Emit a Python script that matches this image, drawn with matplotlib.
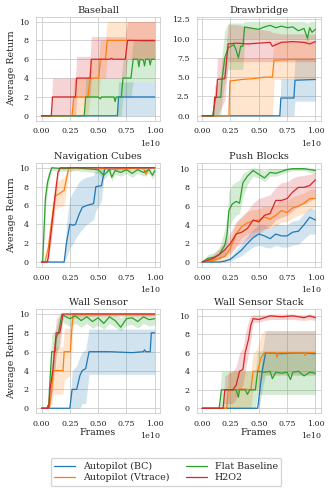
import numpy as np
import matplotlib
matplotlib.use("Agg")
import matplotlib.pyplot as plt
import seaborn as sns

sns.set_style("whitegrid")
plt.rcParams["font.family"] = ["DejaVu Serif"]

methods = ["Autopilot (BC)", "Autopilot (Vtrace)", "Flat Baseline", "H2O2"]
colors = ["#1f77b4", "#ff7f0e", "#2ca02c", "#d62728"]
titles = ["Baseball", "Drawbridge", "Navigation Cubes", "Push Blocks",
          "Wall Sensor", "Wall Sensor Stack"]
xticks = [0.0, 0.25, 0.5, 0.75, 1.0]

# all x values in units of 1e10 frames

# --- Baseball
bb_bc_x = [0, 0.67, 0.68, 1.0]
bb_bc_y = [0, 0, 2, 2]
bb_bc_lo = [0, 0, 0, 0]
bb_bc_hi = [0, 0, 3.6, 3.6]
bb_vt_x = [0, 0.27, 0.285, 0.41, 0.43, 0.505, 0.52, 0.565, 0.58, 0.8, 0.9, 1.0]
bb_vt_y = [0, 0, 2, 2, 4, 4, 6, 6, 8, 8, 7.9, 7.9]
bb_vt_lo = [0, 0, 0, 0, 2, 2, 4, 4, 6, 6, 6, 6]
bb_vt_hi = [0, 0, 4, 4, 6, 6, 8, 8, 10, 10, 10, 10]
bb_fl_x = [0, 0.377, 0.39, 0.5, 0.52, 0.53, 0.6, 0.64, 0.65, 0.66, 0.705, 0.72,
           0.79, 0.81, 0.85, 0.86, 0.87, 0.9, 0.91, 0.92, 0.95, 0.96, 0.97, 1.0]
bb_fl_y = [0, 0, 2, 2, 1.8, 2, 2, 2, 1.5, 2, 2, 4,
           4, 6, 6, 5.2, 6, 5.9, 5.3, 6, 6, 5.4, 6, 6]
bb_fl_lo = [0, 0, 0, 0, 0, 0, 0, 0, 0, 0, 0, 2,
            2, 3.6, 3.6, 3.6, 3.6, 3.6, 3.6, 3.6, 3.6, 3.6, 3.6, 3.6]
bb_fl_hi = [0, 0, 4, 4, 4, 4, 4, 4, 4, 4, 4, 6,
            6, 8, 8, 8, 8, 8, 8, 8, 8, 8, 8, 8]
bb_h2_x = [0, 0.086, 0.097, 0.30, 0.31, 0.43, 0.44, 0.6, 0.62, 0.63, 0.74, 0.76, 1.0]
bb_h2_y = [0, 0, 2, 2, 4, 4, 6, 6, 6.1, 6, 6, 8, 8]
bb_h2_lo = [0, 0, 0, 0, 2, 2, 4, 4, 4, 4, 4, 6, 6]
bb_h2_hi = [0, 0, 4, 4, 6.3, 6.3, 8.4, 8.4, 8.4, 8.4, 8.4, 10, 10]

# --- Drawbridge
db_bc_x = [0, 0.686, 0.695, 0.81, 0.82, 1.0]
db_bc_y = [0, 0, 2.3, 2.3, 4.6, 4.7]
db_bc_lo = [0, 0, 0, 0, 1.9, 1.9]
db_bc_hi = [0, 0, 4.8, 4.8, 7.3, 7.3]
db_vt_x = [0, 0.236, 0.245, 0.35, 0.45, 0.55, 0.6, 0.62, 0.635, 0.8, 1.0]
db_vt_y = [0, 0, 4.5, 4.7, 4.8, 5.0, 5.0, 5.0, 7.2, 7.3, 7.3]
db_vt_lo = [0, 0, 0, 0, 0, 0, 0, 0, 4.7, 4.7, 4.7]
db_vt_hi = [0, 0, 7.5, 7.5, 7.5, 7.5, 7.5, 7.5, 9.7, 9.7, 9.7]
db_fl_x = [0, 0.092, 0.12, 0.165, 0.175, 0.2, 0.23, 0.28, 0.3, 0.32, 0.34, 0.36,
           0.375, 0.45, 0.5, 0.55, 0.6, 0.65, 0.7, 0.75, 0.8, 0.85, 0.9, 0.93,
           0.95, 0.97, 1.0]
db_fl_y = [0, 0, 2.4, 2.4, 4.7, 7.5, 8.8, 9.2, 8.5, 7.5, 9.0, 9.0,
           11.5, 11.3, 11.2, 11.5, 11.7, 11.4, 11.6, 11.4, 11.5, 11.0, 11.3, 10.0,
           11.4, 10.8, 11.2]
db_fl_lo = [0, 0, 0, 0, 2, 4, 6, 6, 6, 6, 6, 6,
            10, 10, 10, 10, 10, 10, 10, 10, 10, 10, 10, 9.6,
            10, 10, 10]
db_fl_hi = [0, 0, 4, 5, 8, 11, 12, 12, 12, 12, 12, 12,
            12.2, 12.2, 12.2, 12.2, 12.2, 12.2, 12.2, 12.2, 12.2, 12.2, 12.2, 12.0,
            12.2, 12.2, 12.2]
db_h2_x = [0, 0.10, 0.11, 0.125, 0.135, 0.2, 0.23, 0.3, 0.4, 0.5, 0.6, 0.62,
           0.7, 0.8, 0.9, 0.95, 1.0]
db_h2_y = [0, 0, 2.4, 2.4, 4.7, 4.8, 9.3, 9.4, 9.3, 9.4, 9.5, 9.0,
           9.5, 9.6, 9.5, 9.3, 9.6]
db_h2_lo = [0, 0, 0, 0, 0, 2, 7, 7, 7, 7, 7, 7, 7, 7, 7, 7, 7]
db_h2_hi = [0, 0, 4, 4, 7.5, 7.5, 11.8, 11.8, 11.5, 11.2, 11, 10.8,
            10.6, 10.6, 10.6, 10.6, 10.6]

# --- Navigation Cubes
nc_bc_x = [0, 0.2, 0.22, 0.25, 0.28, 0.3, 0.33, 0.36, 0.4, 0.46, 0.48, 0.53,
           0.56, 0.6, 0.8, 1.0]
nc_bc_y = [0, 0, 2, 4, 3.9, 4, 5, 5.8, 6, 6.2, 8, 8.1, 10, 10, 10, 10]
nc_bc_lo = [0, 0, 0.5, 1.5, 2, 2.5, 3, 3.5, 4, 4.5, 5.5, 6.5, 10, 10, 10, 10]
nc_bc_hi = [0, 0, 4, 6.8, 7.5, 7.8, 8.5, 8.8, 9, 9.2, 10, 10, 10, 10, 10, 10]
nc_vt_x = [0, 0.03, 0.06, 0.086, 0.12, 0.15, 0.2, 0.24, 0.3, 0.5, 0.6, 0.9,
           0.92, 0.95, 1.0]
nc_vt_y = [0, 0, 1.5, 4, 7, 7.2, 7.6, 10, 10, 10, 9.8, 10, 9.3, 10, 10]
nc_vt_lo = [0, 0, 0.5, 2.5, 5.5, 5.8, 6, 9.5, 9.8, 9.8, 9.6, 9.8, 9.0, 9.8, 9.8]
nc_vt_hi = [0, 0, 2.5, 5.5, 8.5, 8.6, 9, 10, 10, 10, 10, 10, 10, 10, 10]
nc_fl_x = [0, 0.01, 0.034, 0.054, 0.077, 0.09, 0.2, 0.3, 0.4, 0.5, 0.55, 0.6,
           0.62, 0.65, 0.7, 0.75, 0.8, 0.85, 0.9, 0.95, 0.98, 1.0]
nc_fl_y = [0, 0, 6.7, 8.5, 9.5, 10, 9.9, 10, 9.9, 9.8, 9.2, 9.8,
           9.0, 9.7, 9.5, 9.8, 9.4, 9.8, 9.5, 9.8, 9.2, 9.7]
nc_fl_lo = [0, 0, 5.5, 7.8, 9.0, 9.7, 9.6, 9.7, 9.6, 9.4, 8.8, 9.4,
            8.6, 9.3, 9.1, 9.4, 9.0, 9.4, 9.1, 9.4, 8.8, 9.3]
nc_fl_hi = [0, 0.3, 8, 9.3, 10, 10, 10, 10, 10, 10, 9.7, 10,
            9.5, 10, 10, 10, 9.8, 10, 10, 10, 9.7, 10]
nc_h2_x = [0, 0.05, 0.06, 0.09, 0.12, 0.145, 0.165, 0.3, 0.5, 0.7, 1.0]
nc_h2_y = [0, 0, 0.5, 3.8, 7, 9.5, 10, 10, 10, 10, 10]
nc_h2_lo = [0, 0, 0, 2.8, 6, 8.8, 10, 10, 10, 10, 10]
nc_h2_hi = [0, 0, 1, 4.8, 8, 10, 10, 10, 10, 10, 10]

# --- Push Blocks
pb_x = [0, 0.05, 0.1, 0.15, 0.2, 0.25, 0.3, 0.35, 0.4, 0.45, 0.5,
        0.55, 0.6, 0.65, 0.7, 0.75, 0.8, 0.85, 0.9, 0.95, 1.0]
pb_bc_y = [0, 0, 0, 0, 0.1, 0.3, 0.8, 1.3, 2.0, 2.6, 3.0,
           2.8, 2.5, 3.0, 2.8, 2.8, 3.2, 3.3, 4.0, 4.8, 4.5]
pb_bc_lo = [0, 0, 0, 0, 0, 0.1, 0.4, 0.7, 1.2, 1.6, 1.8,
            1.6, 1.5, 1.8, 1.6, 1.6, 1.8, 1.9, 2.5, 3.0, 3.0]
pb_bc_hi = [0, 0, 0, 0, 0.3, 0.6, 1.3, 2.0, 2.8, 3.5, 4.0,
            4.0, 3.6, 4.1, 4.0, 4.0, 4.4, 4.5, 5.2, 5.8, 5.6]
pb_vt_y = [0, 0.1, 0.2, 0.4, 0.6, 1.5, 3.0, 3.8, 4.2, 4.4, 4.5,
           4.8, 4.6, 5.0, 5.5, 5.3, 5.8, 6.0, 6.3, 6.8, 6.8]
pb_vt_lo = [0, 0, 0, 0.1, 0.2, 0.7, 1.8, 2.6, 3.0, 3.2, 3.4,
            3.6, 3.6, 3.9, 4.3, 4.3, 4.7, 5.0, 5.2, 5.6, 5.8]
pb_vt_hi = [0, 0.3, 0.5, 0.8, 1.2, 2.5, 4.2, 5.0, 5.4, 5.6, 5.7,
            6.0, 5.9, 6.2, 6.7, 6.6, 7.0, 7.2, 7.4, 7.8, 7.8]
pb_h2_y = [0, 0.2, 0.4, 0.8, 1.3, 2.0, 3.0, 3.2, 3.6, 4.5, 4.3,
           5.0, 5.2, 6.6, 6.6, 6.8, 7.5, 8.0, 8.0, 8.2, 8.8]
pb_h2_lo = [0, 0, 0.1, 0.3, 0.6, 1.0, 1.6, 2.0, 2.4, 2.8, 3.0,
            3.5, 3.8, 4.5, 4.8, 5.0, 5.5, 6.0, 6.2, 6.5, 7.0]
pb_h2_hi = [0, 0.5, 0.8, 1.4, 2.2, 3.2, 4.3, 4.8, 5.5, 6.3, 6.8,
            7.0, 7.2, 8.0, 8.5, 8.6, 9.0, 9.2, 9.3, 9.4, 9.6]
pb_fl_x = [0, 0.05, 0.1, 0.15, 0.2, 0.22, 0.236, 0.265, 0.3, 0.33, 0.36, 0.4,
           0.45, 0.5, 0.55, 0.6, 0.65, 0.7, 0.75, 0.8, 0.85, 0.9, 0.95, 1.0]
pb_fl_y = [0, 0.4, 0.5, 0.8, 1.8, 3, 5.5, 6.2, 6.5, 6.3, 8.5, 9.2,
           9.8, 9.4, 9.0, 9.6, 9.5, 9.7, 9.9, 10, 10, 10, 9.9, 9.8]
pb_fl_lo = [0, 0, 0.1, 0.3, 0.8, 1.8, 3.5, 4.5, 5.0, 5.2, 7.0, 8.3,
            9.2, 9.0, 8.6, 9.2, 9.2, 9.4, 9.6, 9.8, 9.8, 9.8, 9.6, 9.5]
pb_fl_hi = [0, 0.8, 1, 1.5, 3.5, 5, 7.5, 8.3, 8.6, 8.8, 9.5, 9.8,
            10.1, 10, 9.8, 10, 10, 10, 10.1, 10.1, 10.1, 10.1, 10.1, 10]

# --- Wall Sensor
ws_bc_x = [0, 0.25, 0.27, 0.31, 0.34, 0.36, 0.39, 0.42, 0.6, 0.8, 0.9, 0.91,
           0.92, 0.96, 0.97, 1.0]
ws_bc_y = [0, 0, 2, 2, 3.5, 4, 4.2, 6, 6, 5.9, 6, 6.2, 6, 6, 8, 8]
ws_bc_lo = [0, 0, 0, 0, 0, 0.5, 0.5, 3.6, 3.6, 3.6, 3.6, 3.6, 3.6, 3.6, 3.6, 3.6]
ws_bc_hi = [0, 0, 4, 4.5, 5.5, 6, 6.2, 8.4, 8.4, 8.4, 8.4, 8.4, 8.4, 8.4, 8.4, 8.4]
ws_vt_x = [0, 0.07, 0.09, 0.105, 0.19, 0.2, 0.255, 0.265, 0.28, 0.5, 1.0]
ws_vt_y = [0, 0, 2, 4, 4, 6, 6, 8, 10, 10, 10]
ws_vt_lo = [0, 0, 0.5, 1.5, 1.5, 3, 3.5, 5.5, 9.5, 9.8, 9.8]
ws_vt_hi = [0, 0, 3.5, 6.5, 6.5, 8.5, 8.5, 10, 10, 10, 10]
ws_fl_x = [0, 0.05, 0.055, 0.065, 0.07, 0.09, 0.12, 0.13, 0.15, 0.18, 0.2,
           0.25, 0.3, 0.35, 0.4, 0.45, 0.5, 0.55, 0.6, 0.65, 0.7, 0.75,
           0.8, 0.85, 0.9, 0.95, 1.0]
ws_fl_y = [0, 0, 0.3, 0.3, 2, 6, 6, 7.5, 8, 10, 9.8,
           9.5, 9.8, 9.3, 9.7, 9.2, 9.6, 9.0, 9.7, 9.3, 8.6, 9.5,
           9.6, 9.2, 9.7, 9.4, 9.5]
ws_fl_lo = [0, 0, 0, 0, 0.5, 4, 4.2, 5.5, 6.5, 9.5, 9.0,
            8.7, 9.0, 8.6, 9.0, 8.5, 8.8, 8.4, 9.0, 8.6, 8.2, 8.8,
            8.9, 8.5, 9.0, 8.7, 8.8]
ws_fl_hi = [0, 0.1, 0.6, 0.6, 3.5, 7.8, 8.2, 8.5, 9.5, 10, 10,
            10, 10, 10, 10, 10, 10, 9.9, 10, 10, 9.6, 10,
            10, 10, 10, 10, 10]
ws_h2_x = [0, 0.063, 0.075, 0.1, 0.13, 0.16, 0.17, 0.19, 1.0]
ws_h2_y = [0, 0, 2, 4, 8, 8, 8.5, 10, 10]
ws_h2_lo = [0, 0, 0.5, 2, 6, 6.5, 7, 9.8, 9.8]
ws_h2_hi = [0, 0, 3, 6, 9.5, 10, 10, 10, 10]

# --- Wall Sensor Stack
wss_bc_x = [0, 0.49, 0.51, 0.53, 0.56, 0.7, 0.85, 1.0]
wss_bc_y = [0, 0, 2, 4, 6, 5.9, 6, 5.9]
wss_bc_lo = [0, 0, 0.5, 2, 3.6, 3.6, 3.6, 3.6]
wss_bc_hi = [0, 0, 3.5, 6, 8.4, 8.4, 8.4, 8.4]
wss_vt_x = [0, 0.216, 0.23, 0.3, 0.35, 0.43, 0.45, 0.49, 0.52, 0.55, 0.65,
            0.66, 0.67, 0.8, 0.9, 0.91, 0.92, 1.0]
wss_vt_y = [0, 0, 2, 2, 2.1, 2, 4, 4, 5.5, 6, 6, 5.5, 6, 6, 6, 5.7, 6, 6]
wss_vt_lo = [0, 0, 0, 0, 0, 0, 2, 2, 3, 3.6, 3.6, 3.6, 3.6, 3.6, 3.6, 3.6, 3.6, 3.6]
wss_vt_hi = [0, 0, 4, 4, 4, 4, 6, 6.5, 8, 8.4, 8.4, 8.4, 8.4, 8.4, 8.4, 8.4, 8.4, 8.4]
wss_fl_x = [0, 0.15, 0.17, 0.25, 0.3, 0.32, 0.33, 0.38, 0.4, 0.42, 0.47, 0.49,
            0.55, 0.6, 0.62, 0.65, 0.7, 0.75, 0.78, 0.8, 0.85, 0.9, 0.95, 1.0]
wss_fl_y = [0, 0, 2, 2, 2, 1.2, 2, 2, 1.5, 2, 2, 4,
            3.9, 4, 3.2, 3.9, 3.8, 3.9, 3.1, 3.9, 4, 3.5, 3.9, 3.8]
wss_fl_lo = [0, 0, 0, 0, 0, 0, 0, 0, 0, 0, 0, 1.5,
             1.5, 1.5, 1.5, 1.5, 1.5, 1.5, 1.5, 1.5, 1.5, 1.5, 1.5, 1.5]
wss_fl_hi = [0, 0, 4, 4, 4, 4, 4, 4, 4, 4, 4, 6.2,
             6.2, 6.2, 6.2, 6.2, 6.2, 6.2, 6.2, 6.2, 6.2, 6.2, 6.2, 6.2]
wss_h2_x = [0, 0.185, 0.2, 0.27, 0.3, 0.33, 0.36, 0.38, 0.41, 0.43, 0.45, 0.5,
            0.55, 0.6, 0.7, 0.8, 0.9, 0.95, 1.0]
wss_h2_y = [0, 0, 2, 2, 2.5, 4, 4.2, 6, 7.5, 9, 9.7, 9.6,
            9.8, 10, 9.9, 10, 9.8, 10, 9.8]
wss_h2_lo = [0, 0, 0.5, 0.5, 1, 2, 2.5, 4, 6, 7.5, 9.3, 9.3,
             9.5, 9.6, 9.6, 9.6, 9.5, 9.6, 9.5]
wss_h2_hi = [0, 0, 3.5, 4, 4.5, 6, 6.5, 8, 9.5, 10, 10.1, 10.1,
             10.1, 10.2, 10.2, 10.2, 10.1, 10.2, 10.1]

panels = [
    [(bb_bc_x, bb_bc_y, bb_bc_lo, bb_bc_hi), (bb_vt_x, bb_vt_y, bb_vt_lo, bb_vt_hi),
     (bb_fl_x, bb_fl_y, bb_fl_lo, bb_fl_hi), (bb_h2_x, bb_h2_y, bb_h2_lo, bb_h2_hi)],
    [(db_bc_x, db_bc_y, db_bc_lo, db_bc_hi), (db_vt_x, db_vt_y, db_vt_lo, db_vt_hi),
     (db_fl_x, db_fl_y, db_fl_lo, db_fl_hi), (db_h2_x, db_h2_y, db_h2_lo, db_h2_hi)],
    [(nc_bc_x, nc_bc_y, nc_bc_lo, nc_bc_hi), (nc_vt_x, nc_vt_y, nc_vt_lo, nc_vt_hi),
     (nc_fl_x, nc_fl_y, nc_fl_lo, nc_fl_hi), (nc_h2_x, nc_h2_y, nc_h2_lo, nc_h2_hi)],
    [(pb_x, pb_bc_y, pb_bc_lo, pb_bc_hi), (pb_x, pb_vt_y, pb_vt_lo, pb_vt_hi),
     (pb_fl_x, pb_fl_y, pb_fl_lo, pb_fl_hi), (pb_x, pb_h2_y, pb_h2_lo, pb_h2_hi)],
    [(ws_bc_x, ws_bc_y, ws_bc_lo, ws_bc_hi), (ws_vt_x, ws_vt_y, ws_vt_lo, ws_vt_hi),
     (ws_fl_x, ws_fl_y, ws_fl_lo, ws_fl_hi), (ws_h2_x, ws_h2_y, ws_h2_lo, ws_h2_hi)],
    [(wss_bc_x, wss_bc_y, wss_bc_lo, wss_bc_hi), (wss_vt_x, wss_vt_y, wss_vt_lo, wss_vt_hi),
     (wss_fl_x, wss_fl_y, wss_fl_lo, wss_fl_hi), (wss_h2_x, wss_h2_y, wss_h2_lo, wss_h2_hi)],
]

fig, axes = plt.subplots(3, 2, figsize=(3.32, 4.94), dpi=100)
fig.subplots_adjust(left=0.108, right=0.967, top=0.966, bottom=0.164,
                    hspace=0.41, wspace=0.29)

lines = []
for i, ax in enumerate(axes.flat):
    for j, (x, y, lo, hi) in enumerate(panels[i]):
        x = np.array(x) * 1e10
        ax.fill_between(x, lo, hi, color=colors[j], alpha=0.2, lw=0)
        ln, = ax.plot(x, y, color=colors[j], lw=0.9, label=methods[j])
        if i == 0:
            lines.append(ln)
    ax.set_title(titles[i], fontsize=7, pad=3)
    ax.set_xticks(np.array(xticks) * 1e10)
    ax.tick_params(labelsize=5.8, pad=1.5)
    ax.xaxis.get_offset_text().set_fontsize(5.8)
    for sp in ax.spines.values():
        sp.set_linewidth(0.6)
    ax.grid(lw=0.6)
    if i % 2 == 0:
        ax.set_ylabel("Average Return", fontsize=6.8, labelpad=2)
    if i >= 4:
        ax.set_xlabel("Frames", fontsize=6.8, labelpad=0)

fig.legend(lines, methods, ncol=2, loc="center", bbox_to_anchor=(0.5, 0.044),
           fontsize=6.8, frameon=True, handlelength=2.2, columnspacing=1.8,
           borderpad=0.4, labelspacing=0.2)

fig.savefig("out.png", dpi=100)
